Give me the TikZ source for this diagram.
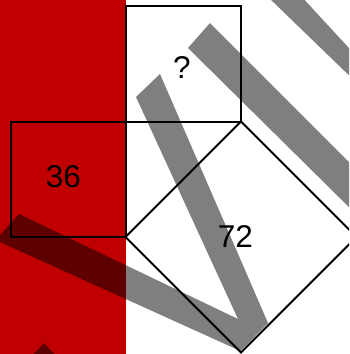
\documentclass[tikz,border=0pt]{standalone}
\usepackage{fontspec}
\setmainfont{Liberation Sans}
\usetikzlibrary{calc}
\definecolor{boxred}{RGB}{192,0,0}

\begin{document}
\begin{tikzpicture}[x=1pt,y=-1pt,
  band/.style={fill=black,fill opacity=0.5},
  edge/.style={line width=2pt},
  lbl/.style={inner sep=0pt,font=\fontsize{31.5}{36}\selectfont}]
\useasboundingbox (0,0) rectangle (349,354);
\clip (0,0) rectangle (349,354);
\fill[boxred] (0,0) rectangle (125.5,354);

\coordinate(C) at (125.5,121.5);
\coordinate(A) at (241,121.5);
\coordinate(B) at (125.5,237);
\coordinate(Ap) at ($(A)+(0,-115.5)$);
\coordinate(Cp) at ($(C)+(0,-115.5)$);
\coordinate(Bq) at ($(B)+(-115,0)$);
\coordinate(Cq) at ($(C)+(-115,0)$);
\coordinate(D) at ($(B)!1!-90:(A)$);
\coordinate(E) at ($(A)!1!90:(B)$);

\draw[edge] (C) -- (A) -- (Ap) -- (Cp) -- cycle;
\draw[edge] (C) -- (B) -- (Bq) -- (Cq) -- cycle;
\draw[edge] (A) -- (B) -- (D) -- (E) -- cycle;

\fill[band] (19,214) -- (238,319) -- (136,97) -- (160,74)
  -- (268,323) -- (240.5,351) -- (-4.5,240) -- cycle;
\fill[band] (210,23) -- (360,173) -- (360,218) -- (188,48) -- cycle;
\fill[band] (266,-5) -- (300,-5) -- (360,60) -- (360,86) -- cycle;
\fill[band] (44,343) -- (56,356) -- (32,356) -- cycle;

\node[lbl] (lq) at (182,67) {?};
\node[lbl] (l36) at (63.5,176.5) {36};
\node[lbl] (l72) at (235.5,236) {72};
\end{tikzpicture}
\end{document}
